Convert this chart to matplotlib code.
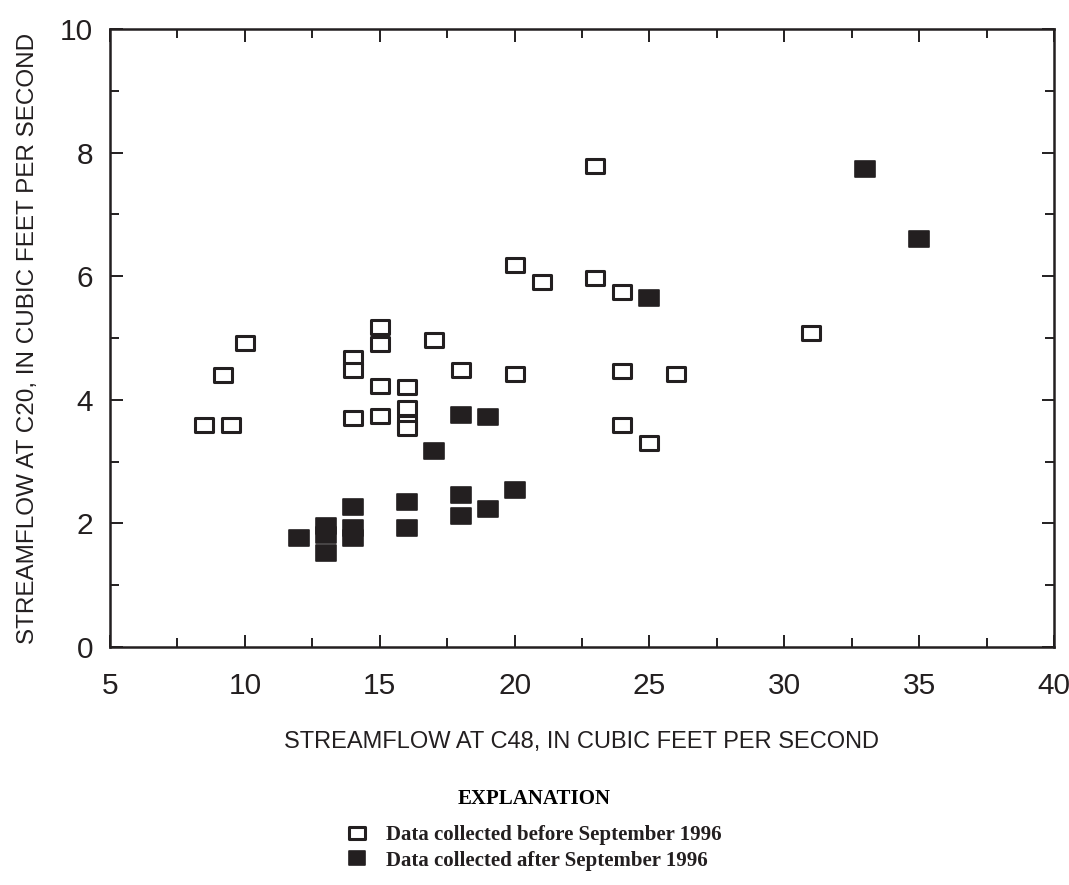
import numpy as np
import matplotlib.pyplot as plt
from matplotlib.path import Path
from matplotlib.ticker import MultipleLocator

# streamflow at C48 (x) vs C20 (y), cubic feet per second
before_x = [8.5, 9.5, 9.2, 10, 14, 14, 14, 15, 15, 15, 15, 16, 16, 16, 16,
            17, 18, 20, 20, 21, 23, 23, 24, 24, 24, 25, 26, 31]
before_y = [3.6, 3.6, 4.4, 4.92, 4.68, 4.48, 3.7, 5.17, 4.9, 4.22, 3.74, 4.2,
            3.86, 3.63, 3.55, 4.97, 4.48, 6.18, 4.41, 5.9, 7.78, 5.97, 5.75,
            4.47, 3.6, 3.3, 4.41, 5.08]

after_x = [12, 13, 13, 13, 14, 14, 14, 16, 16, 17, 18, 18, 18, 19, 19, 20,
           25, 33, 35]
after_y = [1.76, 1.95, 1.82, 1.52, 2.27, 1.92, 1.77, 2.35, 1.92, 3.17, 3.75,
           2.46, 2.12, 3.72, 2.23, 2.54, 5.64, 7.74, 6.6]

labels = ["Data collected before September 1996",
          "Data collected after September 1996"]

ink = "#231f20"
sans = ["Liberation Sans", "DejaVu Sans"]
serif = ["Liberation Serif", "DejaVu Serif"]

# slightly wide rectangle marker
rect = Path([(-1, -0.8), (1, -0.8), (1, 0.8), (-1, 0.8), (-1, -0.8)],
            [Path.MOVETO, Path.LINETO, Path.LINETO, Path.LINETO, Path.CLOSEPOLY])

fig = plt.figure(figsize=(10.69, 8.85), dpi=100)
ax = fig.add_axes([110 / 1069, 1 - 647 / 885, (1054 - 110) / 1069, (647 - 29) / 885])

ax.plot(before_x, before_y, linestyle="none", marker=rect, markersize=13.3,
        markerfacecolor="white", markeredgecolor=ink, markeredgewidth=2.2,
        label=labels[0])
ax.plot(after_x, after_y, linestyle="none", marker=rect, markersize=14.3,
        markerfacecolor=ink, markeredgecolor=ink, markeredgewidth=1.2,
        label=labels[1])

ax.set_xlim(5, 40)
ax.set_ylim(0, 10)
ax.xaxis.set_major_locator(MultipleLocator(5))
ax.xaxis.set_minor_locator(MultipleLocator(2.5))
ax.yaxis.set_major_locator(MultipleLocator(2))
ax.yaxis.set_minor_locator(MultipleLocator(1))

for s in ax.spines.values():
    s.set_linewidth(1.8)
    s.set_color(ink)

ax.tick_params(which="both", direction="in", top=True, right=True,
               color=ink, width=1.4)
ax.tick_params(which="major", length=9)
ax.tick_params(which="minor", length=6.5)
ax.tick_params(axis="x", which="major", pad=18)
ax.tick_params(axis="y", which="major", pad=12)
for t in ax.get_xticklabels() + ax.get_yticklabels():
    t.set_fontfamily(sans)
    t.set_fontsize(21.5)
    t.set_color(ink)

ax.set_xlabel("STREAMFLOW AT C48, IN CUBIC FEET PER SECOND",
              fontfamily=sans, fontsize=17, color=ink, labelpad=22)
ax.set_ylabel("STREAMFLOW AT C20, IN CUBIC FEET PER SECOND",
              fontfamily=sans, fontsize=17.5, color=ink, labelpad=15)

leg = fig.legend(loc="upper center", bbox_to_anchor=(0.5, 1 - 770 / 885),
                 frameon=False, markerscale=0.85, handlelength=1.0,
                 handletextpad=0.9, labelspacing=0.25,
                 prop={"family": serif, "weight": "bold", "size": 15},
                 title="EXPLANATION",
                 title_fontproperties={"family": serif, "weight": "bold",
                                       "size": 15})
leg._legend_box.sep = 12
for t in leg.get_texts():
    t.set_color(ink)

fig.savefig("out.png", dpi=100)
